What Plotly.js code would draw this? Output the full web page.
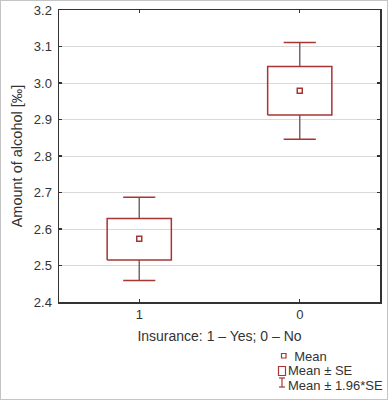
<!DOCTYPE html>
<html>
<head>
<meta charset="utf-8">
<script src="https://cdn.plot.ly/plotly-3.0.1.min.js"></script>
<style>
  html, body { margin: 0; padding: 0; background: #fff; }
  #wrap { position: relative; width: 388px; height: 400px; }
  #chart { width: 388px; height: 400px; }
  #frame { position: absolute; left: 0; top: 0; width: 388px; height: 400px; box-sizing: border-box; border: 1px solid #c4c4c4; pointer-events: none; }
</style>
</head>
<body>
<div id="wrap"><div id="chart"></div><div id="frame"></div></div>
<script>
// ---- data ----
var categories = ['1', '0'];
var means      = [2.573, 2.979];
var seLow      = [2.515, 2.912];   // mean - SE
var seHigh     = [2.629, 3.045];   // mean + SE
var ciLow      = [2.459, 2.846];   // mean - 1.96*SE
var ciHigh     = [2.687, 3.111];   // mean + 1.96*SE
var yTicks     = [2.4, 2.5, 2.6, 2.7, 2.8, 2.9, 3.0, 3.1, 3.2];
var yTickText  = ['2.4', '2.5', '2.6', '2.7', '2.8', '2.9', '3.0', '3.1', '3.2'];
var legendLabels = ['Mean', 'Mean \u00b1 SE', 'Mean \u00b1 1.96*SE'];

var RED = '#a83434';
var STEM = '#7e6464';
var FONT = 'Liberation Sans, Arial, sans-serif';

// figure geometry
var W = 388, H = 400;
var M = {l: 59, r: 8, t: 10, b: 98};
var PW = W - M.l - M.r, PH = H - M.t - M.b;
function px(x) { return (x - M.l) / PW; }
function py(y) { return (H - M.b - y) / PH; }

var BOX_HALF = 0.2, CAP_HALF = 0.1;
var pos = categories.map(function (c, i) { return i; });

// boxes (mean ± SE), caps and stems (mean ± 1.96*SE) built from the data arrays
var boxX = [], boxY = [], capX = [], capY = [], stemX = [], stemY = [];
for (var i = 0; i < categories.length; i++) {
  var p = pos[i];
  boxX.push(p - BOX_HALF, p + BOX_HALF, p + BOX_HALF, p - BOX_HALF, p - BOX_HALF, null);
  boxY.push(seLow[i], seLow[i], seHigh[i], seHigh[i], seLow[i], null);
  capX.push(p - CAP_HALF, p + CAP_HALF, null, p - CAP_HALF, p + CAP_HALF, null);
  capY.push(ciHigh[i], ciHigh[i], null, ciLow[i], ciLow[i], null);
  stemX.push(p, p, null, p, p, null);
  stemY.push(seHigh[i], ciHigh[i], null, seLow[i], ciLow[i], null);
}

var traces = [
  {type: 'scatter', mode: 'lines', x: stemX, y: stemY,
   line: {color: STEM, width: 1.5}, showlegend: false, hoverinfo: 'skip'},
  {type: 'scatter', mode: 'lines', x: capX, y: capY,
   line: {color: RED, width: 1.5}, showlegend: false, hoverinfo: 'skip'},
  {type: 'scatter', mode: 'lines', x: boxX, y: boxY,
   line: {color: RED, width: 1.5}, showlegend: false, hoverinfo: 'skip'},
  {type: 'scatter', mode: 'markers', x: pos, y: means,
   marker: {symbol: 'square-open', size: 5, color: RED, line: {color: RED, width: 1.5}},
   showlegend: false, hoverinfo: 'skip'}
];

// hand-drawn legend (paper coordinates)
var shapes = [
  {type: 'rect', xref: 'paper', yref: 'paper', x0: px(281.5), x1: px(286), y0: py(358), y1: py(353.5),
   line: {color: RED, width: 1.2}, fillcolor: '#fff'},
  {type: 'rect', xref: 'paper', yref: 'paper', x0: px(278.5), x1: px(285.5), y0: py(375.5), y1: py(366.5),
   line: {color: RED, width: 1.2}, fillcolor: '#fff'},
  {type: 'line', xref: 'paper', yref: 'paper', x0: px(282), x1: px(282), y0: py(387), y1: py(378),
   line: {color: RED, width: 1.2}},
  {type: 'line', xref: 'paper', yref: 'paper', x0: px(279), x1: px(285), y0: py(378), y1: py(378),
   line: {color: RED, width: 1.2}},
  {type: 'line', xref: 'paper', yref: 'paper', x0: px(279), x1: px(285), y0: py(387), y1: py(387),
   line: {color: RED, width: 1.2}}
];
var legendIndent = ['\u00a0\u2009', '', ''];
var legendText = legendLabels.map(function (t, k) {
  return '<span style="font-size:13px">' + legendIndent[k] + t + '</span>';
}).join('<br>');
var annotations = [{
  xref: 'paper', yref: 'paper', x: px(287.3), y: py(370.7),
  xanchor: 'left', yanchor: 'middle', align: 'left', text: legendText, showarrow: false,
  borderpad: 0, font: {family: FONT, size: 11, color: '#333'}
}];

var layout = {
  width: W, height: H,
  margin: M,
  paper_bgcolor: '#fff',
  plot_bgcolor: '#fff',
  font: {family: FONT, size: 13, color: '#333'},
  showlegend: false,
  xaxis: {
    range: [-0.5, 1.5],
    tickvals: pos, ticktext: categories,
    showline: true, mirror: 'ticks', linecolor: '#333', linewidth: 1.5,
    ticks: 'inside', ticklen: 3, tickcolor: '#333', tickwidth: 1.2,
    showgrid: false, zeroline: false,
    tickfont: {family: FONT, size: 13, color: '#333'},
    title: {text: 'Insurance: 1 \u2013 Yes; 0 \u2013 No', font: {family: FONT, size: 14, color: '#333'}, standoff: 10},
    automargin: false
  },
  yaxis: {
    range: [2.4, 3.2],
    tickvals: yTicks, ticktext: yTickText,
    showline: true, mirror: 'ticks', linecolor: '#333', linewidth: 1.5,
    ticks: 'inside', ticklen: 3, tickcolor: '#333', tickwidth: 1.2,
    ticklabelstandoff: 3,
    showgrid: true, gridcolor: '#d9d9d9', gridwidth: 1,
    zeroline: false,
    tickfont: {family: FONT, size: 13, color: '#333'},
    title: {text: 'Amount of alcohol [\u2030]', font: {family: FONT, size: 14.5, color: '#333'}, standoff: 7},
    automargin: false
  },
  shapes: shapes,
  annotations: annotations
};

Plotly.newPlot('chart', traces, layout, {displayModeBar: false, staticPlot: true});
</script>
</body>
</html>
